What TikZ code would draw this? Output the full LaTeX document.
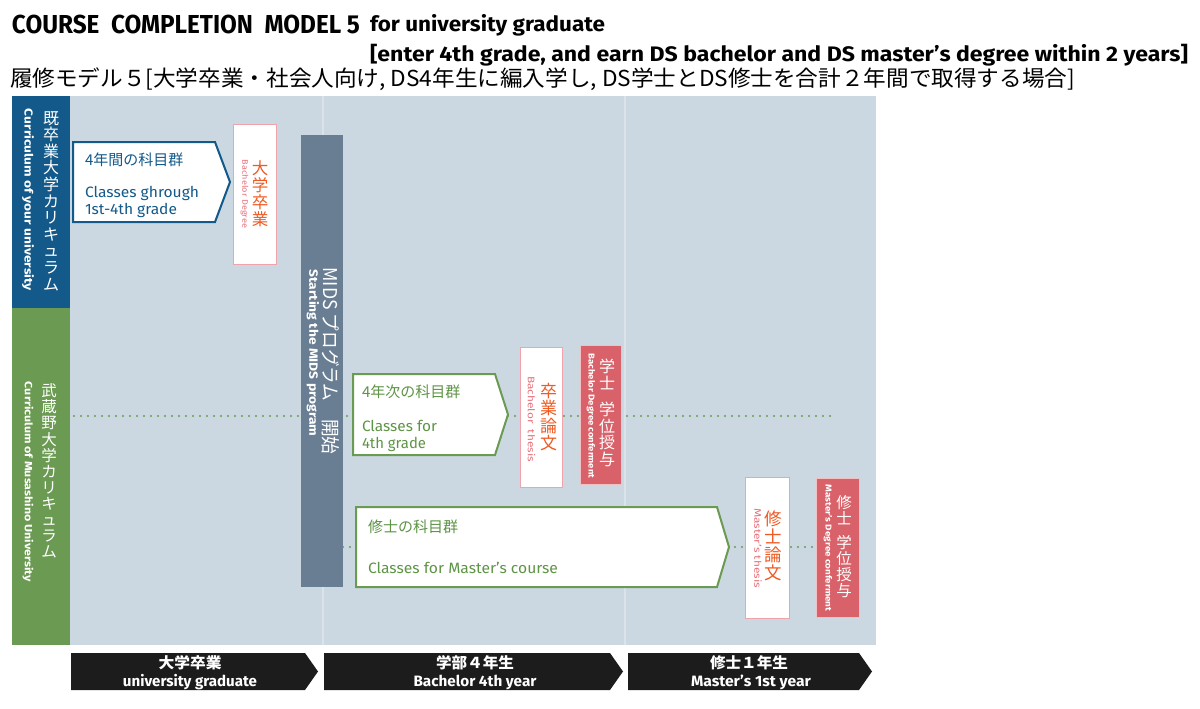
\documentclass[tikz,border=0pt]{standalone}
\usepackage{fontspec}
\setmainfont{Fira Sans}
\newfontfamily\jp{Noto Sans CJK JP}
\definecolor{panel}{HTML}{CBD8E2}
\definecolor{cblue}{HTML}{135A8A}
\definecolor{cgreen}{HTML}{6B9A52}
\definecolor{tgreen}{HTML}{5E9445}
\definecolor{slate}{HTML}{6A7E93}
\definecolor{pinkb}{HTML}{EFA3AA}
\definecolor{orng}{HTML}{F05A22}
\definecolor{pinkt}{HTML}{E8707A}
\definecolor{redb}{HTML}{D9626A}
\definecolor{faint}{HTML}{DAE3EA}
\definecolor{dark}{HTML}{1C1C1C}
\newcommand\fitw[2]{\resizebox{#1}{\height}{#2}}
\tikzset{
  dotline/.style={draw=cgreen, line width=2.4pt, line cap=round, dash pattern=on 0pt off 7pt},
  pentab/.style={draw=cblue, line width=2pt, fill=white, line join=miter},
  pentag/.style={draw=cgreen, line width=2pt, fill=white, line join=miter},
  thesisbox/.style={draw=pinkb, line width=1pt, fill=white},
  degreebox/.style={draw=white!60!redb, line width=0.8pt, fill=redb},
  yeararrow/.style={fill=dark},
  vjp/.style={align=center},
}
\begin{document}
\begin{tikzpicture}[x=1pt,y=-1pt, every node/.style={inner sep=0pt, outer sep=0pt}]
\useasboundingbox (0,0) rectangle (1200,709);
\fill[white] (0,0) rectangle (1200,709);

% titles
\node[anchor=base west] (t1) at (12,34) {\fontsize{26}{30}\selectfont\bfseries\fitw{348pt}{COURSE\ \ COMPLETION\ \ MODEL 5}};
\node[anchor=base west] (t2) at (370,32) {\fontsize{21}{25}\selectfont\bfseries\fitw{235pt}{for university graduate}};
\node[anchor=base west] (t3) at (370,62) {\fontsize{21}{25}\selectfont\bfseries\fitw{818pt}{[enter 4th grade, and earn DS bachelor and DS master’s degree within 2 years]}};
\node[anchor=base west] (t4) at (10,87) {\jp\fontsize{22}{26}\selectfont\fitw{1065pt}{履修モデル５[大学卒業・社会人向け, DS4年生に編入学し, DS学士とDS修士を合計２年間で取得する場合]}};

% panel
\fill[panel] (70,96) rectangle (876,645);
\draw[faint, line width=1.5pt] (323,96) -- (323,645);
\draw[faint, line width=1.5pt] (625,96) -- (625,645);

% left columns
\node[fill=cblue, minimum width=58, minimum height=212] (colb) at (41,202) {};
\node[fill=cgreen, minimum width=58, minimum height=337] (colg) at (41,476.5) {};
\node[vjp, text=white, font={\jp\fontsize{16}{16.6}\selectfont}] (bj) at (51,201) {既\\卒\\業\\大\\学\\カ\\リ\\キ\\ュ\\ラ\\ム};
\node[rotate=-90, text=white, font={\fontsize{11.5}{13}\selectfont\bfseries}] (be) at (28,200) {\fitw{182pt}{Curriculum of your university}};
\node[vjp, text=white, font={\jp\fontsize{15.5}{16.1}\selectfont}] (gj) at (49,471) {武\\蔵\\野\\大\\学\\カ\\リ\\キ\\ュ\\ラ\\ム};
\node[rotate=-90, text=white, font={\fontsize{10.5}{12}\selectfont\bfseries}] (ge) at (28,482) {\fitw{200pt}{Curriculum of Musashino University}};

% dotted connectors
\coordinate (d1) at (74,416);
\coordinate (d2) at (835,416);
\draw[dotline] (d1) -- (d2);
\coordinate (m1) at (343,547);
\coordinate (m2) at (816,547);
\draw[dotline] (m1) -- (m2);

% pentagon 1
\draw[pentab] (73,142) -- (215,142) -- (230,182) -- (215,222) -- (73,222) -- cycle;
\node[anchor=west, text=cblue, font={\jp\fontsize{15}{18}\selectfont}] (p1a) at (85,160) {4年間の科目群};
\node[anchor=base west, text=cblue, font={\fontsize{15}{17}\selectfont}] (p1b) at (85,197) {\fitw{114pt}{Classes ghrough}};
\node[anchor=base west, text=cblue, font={\fontsize{15}{17}\selectfont}] (p1c) at (85,214) {\fitw{92pt}{1st-4th grade}};

% bachelor degree box
\node[thesisbox, minimum width=43, minimum height=140] (bd) at (254.5,194) {};
\node[vjp, text=orng, font={\jp\fontsize{16.5}{17}\selectfont}] (bdj) at (260,194) {大\\学\\卒\\業};
\node[rotate=-90, text=pinkt, font={\fontsize{8}{9}\selectfont}] (bde) at (244.5,194) {\fitw{68pt}{Bachelor Degree}};

% MIDS bar
\node[fill=slate, minimum width=42, minimum height=452] (mids) at (322,361) {};
\node[rotate=-90, text=white, font={\jp\fontsize{19}{22}\selectfont}] (midsj) at (331,361) {\fitw{187pt}{MIDS プログラム　開始}};
\node[rotate=-90, text=white, font={\fontsize{12}{14}\selectfont\bfseries}] (midse) at (313,353) {\fitw{167pt}{Starting the MIDS program}};

% pentagon 2
\draw[pentag] (353,374) -- (495,374) -- (508,414.5) -- (495,455) -- (353,455) -- cycle;
\node[anchor=west, text=tgreen, font={\jp\fontsize{15}{18}\selectfont}] (p2a) at (362,391.5) {4年次の科目群};
\node[anchor=base west, text=tgreen, font={\fontsize{15}{17}\selectfont}] (p2b) at (362,431) {\fitw{75pt}{Classes for}};
\node[anchor=base west, text=tgreen, font={\fontsize{15}{17}\selectfont}] (p2c) at (362,448) {\fitw{64pt}{4th grade}};

% bachelor thesis
\node[thesisbox, minimum width=42, minimum height=140] (bt) at (541,417) {};
\node[vjp, text=orng, font={\jp\fontsize{17}{17.3}\selectfont}] (btj) at (548.5,417) {卒\\業\\論\\文};
\node[rotate=-90, text=pinkt, font={\fontsize{9.5}{11}\selectfont}] (bte) at (531.5,419) {\fitw{86pt}{Bachelor\ \ thesis}};

% bachelor degree conferment
\node[degreebox, minimum width=41, minimum height=139] (bc) at (600.5,414.5) {};
\node[vjp, text=white, font={\jp\fontsize{16}{16.5}\selectfont}] (bcj) at (607,413) {学\\士\\[10pt]学\\位\\授\\与};
\node[rotate=-90, text=white, font={\fontsize{8.5}{10}\selectfont\bfseries}] (bce) at (591,416) {\fitw{125pt}{Bachelor Degree conferment}};

% pentagon 3
\draw[pentag] (356,507) -- (717,507) -- (729,547) -- (717,587) -- (356,587) -- cycle;
\node[anchor=west, text=tgreen, font={\jp\fontsize{15}{18}\selectfont}] (p3a) at (368,527) {修士の科目群};
\node[anchor=base west, text=tgreen, font={\fontsize{15}{17}\selectfont}] (p3b) at (368,573) {\fitw{190pt}{Classes for Master’s course}};

% master thesis
\node[thesisbox, minimum width=44, minimum height=141] (mt) at (767,547.5) {};
\node[vjp, text=orng, font={\jp\fontsize{17.5}{18}\selectfont}] (mtj) at (773,546) {修\\士\\論\\文};
\node[rotate=-90, text=pinkt, font={\fontsize{9.5}{11}\selectfont}] (mte) at (758,548) {\fitw{80pt}{Master’s thesis}};

% master degree conferment
\node[degreebox, minimum width=43, minimum height=139] (mc) at (837.5,547.5) {};
\node[vjp, text=white, font={\jp\fontsize{15.5}{16}\selectfont}] (mcj) at (844,547) {修\\士\\[8pt]学\\位\\授\\与};
\node[rotate=-90, text=white, font={\fontsize{8.5}{10}\selectfont\bfseries}] (mce) at (828,548) {\fitw{127pt}{Master’s Degree conferment}};

% year arrows
\fill[yeararrow] (71,653) -- (305,653) -- (318,671.5) -- (305,690) -- (71,690) -- cycle;
\fill[yeararrow] (324,653) -- (610,653) -- (623,671.5) -- (610,690) -- (324,690) -- cycle;
\fill[yeararrow] (628,653) -- (859,653) -- (872,671.5) -- (859,690) -- (628,690) -- cycle;
\node[text=white, font={\jp\fontsize{15}{17}\selectfont\bfseries}] (y1a) at (190,663) {\fitw{63pt}{大学卒業}};
\node[anchor=base, text=white, font={\fontsize{15}{17}\selectfont\bfseries}] (y1b) at (190,686) {\fitw{134pt}{university graduate}};
\node[text=white, font={\jp\fontsize{15}{17}\selectfont\bfseries}] (y2a) at (475,663) {\fitw{78pt}{学部４年生}};
\node[anchor=base, text=white, font={\fontsize{15}{17}\selectfont\bfseries}] (y2b) at (475,686) {\fitw{123pt}{Bachelor 4th year}};
\node[text=white, font={\jp\fontsize{15}{17}\selectfont\bfseries}] (y3a) at (749,663) {\fitw{78pt}{修士１年生}};
\node[anchor=base, text=white, font={\fontsize{15}{17}\selectfont\bfseries}] (y3b) at (751,686) {\fitw{120pt}{Master’s 1st year}};
\end{tikzpicture}
\end{document}
